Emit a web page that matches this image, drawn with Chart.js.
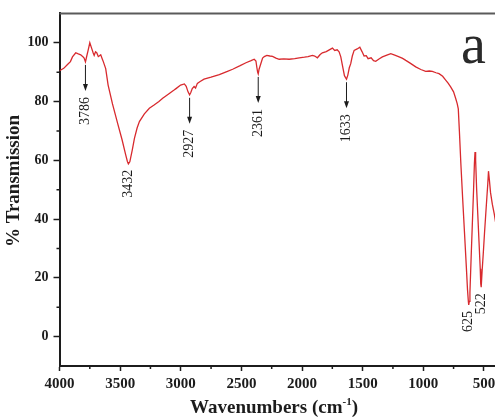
<!DOCTYPE html>
<html>
<head>
<meta charset="utf-8">
<script src="https://cdn.jsdelivr.net/npm/chart.js@4.4.1/dist/chart.umd.min.js"></script>
<style>
  html, body { margin: 0; padding: 0; background: #fff; overflow: hidden; }
  #wrap { position: absolute; left: 0; top: 0; width: 500px; height: 418px; }
</style>
</head>
<body>
<div id="wrap"><canvas id="ftir"></canvas></div>
<script>
// --- Spectrum (wavenumber in cm-1, % transmission) ---
const wavenumbers = [
    4000, 3965, 3934, 3910, 3893, 3866, 3845, 3825, 3805, 3797, 3786, 3775, 3764, 3750, 3734, 3722,
    3714, 3703, 3693, 3680, 3673, 3660, 3648, 3638, 3619, 3599, 3563, 3520, 3484, 3455, 3440, 3432,
    3420, 3400, 3382, 3360, 3341, 3300, 3259, 3220, 3180, 3149, 3100, 3055, 3039, 3001, 2970, 2955,
    2940, 2927, 2918, 2905, 2890, 2878, 2863, 2840, 2808, 2750, 2682, 2620, 2572, 2510, 2462, 2420,
    2394, 2380, 2372, 2366, 2361, 2354, 2345, 2325, 2311, 2290, 2265, 2243, 2215, 2188, 2150, 2106,
    2060, 2023, 1980, 1950, 1914, 1895, 1873, 1850, 1832, 1800, 1775, 1749, 1730, 1710, 1694, 1680,
    1667, 1650, 1633, 1622, 1610, 1598, 1585, 1570, 1545, 1523, 1505, 1488, 1470, 1455, 1430, 1410,
    1392, 1365, 1337, 1300, 1268, 1235, 1199, 1170, 1144, 1105, 1062, 1020, 980, 950, 925, 895,
    870, 840, 815, 795, 774, 750, 733, 720, 711, 702, 690, 675, 660, 645, 635, 628,
    625, 620, 615, 605, 595, 585, 578, 573, 568, 560, 550, 540, 530, 526, 522, 515,
    505, 495, 485, 475, 468, 462, 455, 445, 430, 414, 400
];
const transmission = [
    90.5, 91.3, 92.6, 93.6, 95.2, 96.6, 96.2, 95.9, 95.2, 94.8, 93.5, 95.5, 97.4, 100.0, 98.0, 96.5,
    95.7, 96.9, 96.6, 95.3, 95.5, 95.9, 94.6, 93.5, 91.2, 85.6, 79.2, 72.5, 67.0, 62.0, 59.6, 58.8,
    59.5, 63.5, 67.5, 71.0, 73.2, 75.8, 77.7, 78.8, 80.0, 81.1, 82.6, 83.9, 84.4, 85.6, 86.0, 85.2,
    83.3, 82.3, 83.0, 84.4, 85.1, 84.6, 86.2, 86.8, 87.6, 88.3, 89.2, 90.2, 91.0, 92.2, 93.2, 93.9,
    94.4, 93.8, 91.5, 90.0, 89.4, 91.0, 92.2, 94.8, 95.3, 95.7, 95.5, 95.4, 94.8, 94.4, 94.5, 94.4,
    94.6, 94.9, 95.1, 95.3, 95.7, 95.5, 94.9, 96.0, 96.6, 97.0, 97.6, 98.2, 97.4, 97.6, 96.9, 95.2,
    92.4, 88.8, 87.6, 89.0, 91.5, 92.9, 95.5, 97.4, 97.9, 98.5, 97.0, 95.5, 95.6, 94.6, 94.9, 93.9,
    93.7, 94.5, 95.2, 95.8, 96.3, 95.8, 95.2, 94.7, 94.0, 93.0, 91.8, 90.9, 90.3, 90.4, 90.3, 89.8,
    89.5, 88.6, 87.3, 86.3, 85.0, 83.3, 81.1, 79.3, 77.5, 70.0, 59.0, 47.0, 35.5, 24.0, 16.0, 12.0,
    10.8, 12.0, 15.0, 27.0, 38.5, 50.0, 59.0, 62.8, 60.0, 50.5, 41.4, 32.2, 23.1, 18.0, 16.8, 22.0,
    28.3, 35.1, 41.4, 47.6, 51.8, 56.3, 53.5, 49.0, 45.0, 41.7, 38.0
];

// --- Axis ticks ---
const xMajorTicks = [4000, 3500, 3000, 2500, 2000, 1500, 1000, 500];
const xMinorTicks = [3750, 3250, 2750, 2250, 1750, 1250, 750];
const yMajorTicks = [0, 20, 40, 60, 80, 100];
const yMinorTicks = [10, 30, 50, 70, 90];

// --- Band assignments marked on the spectrum ---
const peakWavenumbers = [3786, 3432, 2927, 2361, 1633, 625, 522];
const peakLabels = ['3786', '3432', '2927', '2361', '1633', '625', '522'];
const peakArrows = [true, false, true, true, true, false, false];

const SERIF = "'Liberation Serif', 'Times New Roman', serif";
const INK = '#1c1c1c';

function transmissionAt(wn) {
    let best = 0;
    wavenumbers.forEach((w, i) => { if (Math.abs(w - wn) < Math.abs(wavenumbers[best] - wn)) best = i; });
    return transmission[best];
}

// extra drawing: frame top, minor ticks, arrows + labels, titles, panel letter
const decorations = {
    id: 'decorations',
    afterDraw(chart) {
        const { ctx, chartArea: a, scales: { x, y } } = chart;
        ctx.save();

        // top frame line
        ctx.strokeStyle = '#5a5a5a';
        ctx.lineWidth = 2;
        ctx.beginPath();
        ctx.moveTo(a.left, a.top);
        ctx.lineTo(a.right + 10, a.top);
        ctx.stroke();

        // minor ticks, outward
        ctx.strokeStyle = INK;
        ctx.lineWidth = 1.5;
        ctx.beginPath();
        xMinorTicks.forEach(v => {
            const px = x.getPixelForValue(v);
            ctx.moveTo(px, a.bottom);
            ctx.lineTo(px, a.bottom + 3);
        });
        yMinorTicks.forEach(v => {
            const py = y.getPixelForValue(v);
            ctx.moveTo(a.left - 3, py);
            ctx.lineTo(a.left, py);
        });
        ctx.stroke();

        // peak arrows and rotated labels
        ctx.font = `14px ${SERIF}`;
        ctx.fillStyle = INK;
        ctx.strokeStyle = INK;
        ctx.lineWidth = 1;
        peakWavenumbers.forEach((wn, i) => {
            const px = x.getPixelForValue(wn);
            let py = y.getPixelForValue(transmissionAt(wn));
            if (peakArrows[i]) {
                const tail = py + 3, tip = tail + 26;
                ctx.beginPath();
                ctx.moveTo(px, tail);
                ctx.lineTo(px, tip - 5);
                ctx.stroke();
                ctx.beginPath();
                ctx.moveTo(px - 2.5, tip - 7);
                ctx.lineTo(px + 2.5, tip - 7);
                ctx.lineTo(px, tip);
                ctx.closePath();
                ctx.fill();
                py = tip;
            }
            ctx.save();
            ctx.translate(px, py + 6);
            ctx.rotate(-Math.PI / 2);
            ctx.textAlign = 'right';
            ctx.textBaseline = 'middle';
            ctx.fillText(peakLabels[i], 0, 0);
            ctx.restore();
        });

        // axis titles
        ctx.fillStyle = INK;
        ctx.save();
        ctx.translate(14, 181);
        ctx.rotate(-Math.PI / 2);
        ctx.font = `bold 19px ${SERIF}`;
        ctx.textAlign = 'center';
        ctx.textBaseline = 'middle';
        ctx.fillText('% Transmission', 0, 0);
        ctx.restore();

        const main = 'Wavenumbers (cm', sup = '-1', close = ')';
        ctx.font = `bold 19px ${SERIF}`;
        const wMain = ctx.measureText(main).width, wClose = ctx.measureText(close).width;
        ctx.font = `bold 11px ${SERIF}`;
        const wSup = ctx.measureText(sup).width;
        let tx = 274 - (wMain + wSup + wClose) / 2;
        const base = 413;
        ctx.textAlign = 'left';
        ctx.textBaseline = 'alphabetic';
        ctx.font = `bold 19px ${SERIF}`;
        ctx.fillText(main, tx, base);
        tx += wMain;
        ctx.font = `bold 11px ${SERIF}`;
        ctx.fillText(sup, tx, base - 8);
        tx += wSup;
        ctx.font = `bold 19px ${SERIF}`;
        ctx.fillText(close, tx, base);

        // panel letter
        ctx.fillStyle = '#2a2a2a';
        ctx.font = `56px ${SERIF}`;
        ctx.fillText('a', 461, 63);

        ctx.restore();
    }
};

new Chart(document.getElementById('ftir'), {
    type: 'line',
    data: {
        datasets: [{
            data: wavenumbers.map((w, i) => ({ x: w, y: transmission[i] })),
            borderColor: '#d82a2e',
            borderWidth: 1.3,
            pointRadius: 0,
            tension: 0,
            fill: false
        }]
    },
    options: {
        responsive: true,
        maintainAspectRatio: false,
        animation: false,
        layout: { padding: { top: 11, right: 4, bottom: 0, left: 0 } },
        plugins: { legend: { display: false }, tooltip: { enabled: false } },
        scales: {
            x: {
                type: 'linear',
                reverse: true,
                min: 400,
                max: 4000,
                afterBuildTicks: s => { s.ticks = xMajorTicks.map(v => ({ value: v })); },
                afterFit: s => { s.height = 52; },
                grid: { drawOnChartArea: false, tickLength: 5, tickColor: INK, tickWidth: 1.5 },
                border: { display: true, color: INK, width: 2 },
                ticks: {
                    autoSkip: false, maxRotation: 0, padding: 4, color: INK,
                    font: { family: SERIF, size: 15, weight: 'bold' },
                    callback: v => String(v)
                }
            },
            y: {
                min: -10,
                max: 110,
                afterBuildTicks: s => { s.ticks = yMajorTicks.map(v => ({ value: v })); },
                afterFit: s => { s.width = 59.5; },
                grid: { drawOnChartArea: false, tickLength: 6, tickColor: INK, tickWidth: 1.5 },
                border: { display: true, color: INK, width: 2 },
                ticks: { padding: 5, color: INK, font: { family: SERIF, size: 14, weight: 'bold' } }
            }
        }
    },
    plugins: [decorations]
});
</script>
</body>
</html>
